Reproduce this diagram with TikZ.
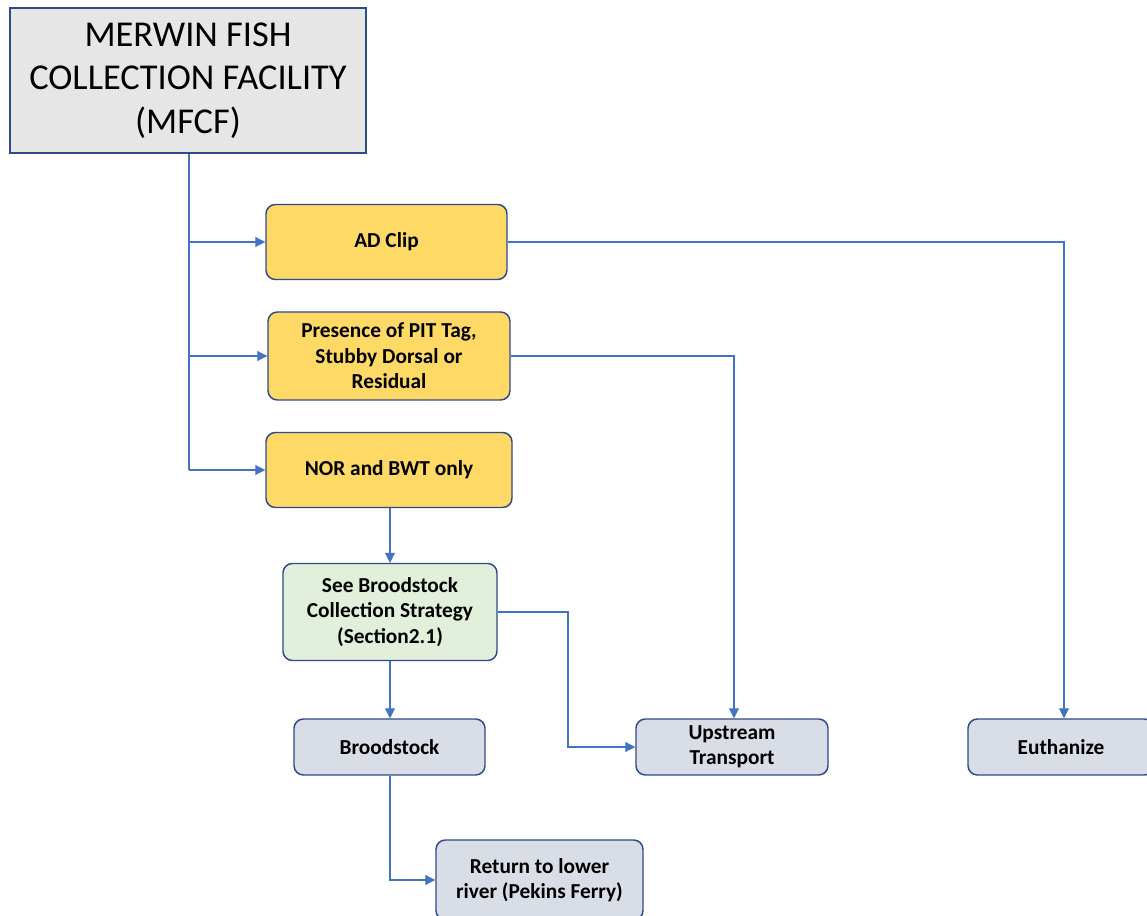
\documentclass[tikz,border=0pt]{standalone}
\usepackage{fontspec}
\setmainfont{Carlito}
\usetikzlibrary{arrows.meta}
\definecolor{lineblue}{HTML}{4472C4}
\definecolor{boxborder}{HTML}{2F4A8A}
\definecolor{goldfill}{HTML}{FFD966}
\definecolor{greenfill}{HTML}{E2EFDA}
\definecolor{grayfill}{HTML}{D9DEE6}
\definecolor{topfill}{HTML}{E6E6E6}
\tikzset{
  base/.style={draw=boxborder, line width=1.1pt, align=center, inner sep=0pt, font=\bfseries\fontsize{16}{19}\selectfont},
  goldbox/.style={base, fill=goldfill, rounded corners=7pt},
  greenbox/.style={base, fill=greenfill, rounded corners=7pt},
  graybox/.style={base, fill=grayfill, rounded corners=7pt},
  topbox/.style={draw=boxborder, line width=1.1pt, fill=topfill, align=center, inner sep=0pt, font=\fontsize{27.3}{32.5}\selectfont},
  conn/.style={draw=lineblue, line width=0.8pt, -{Triangle[length=7.5pt,width=7.5pt]}},
  plain/.style={draw=lineblue, line width=0.8pt}
}
\begin{document}
\begin{tikzpicture}[x=0.75pt,y=-0.75pt]
\useasboundingbox (0,0) rectangle (1147,916);
\clip (0,0) rectangle (1147,916);
\node[topbox, minimum width=356*0.75pt, minimum height=145*0.75pt] (mfcf) at (188,80.5) {MERWIN FISH\\COLLECTION FACILITY\\(MFCF)};
\node[goldbox, minimum width=241*0.75pt, minimum height=75*0.75pt] (ad) at (386.5,242) {AD Clip};
\node[goldbox, minimum width=242*0.75pt, minimum height=88*0.75pt] (pit) at (389,356) {Presence of PIT Tag,\\Stubby Dorsal or\\Residual};
\node[goldbox, minimum width=246*0.75pt, minimum height=75*0.75pt] (nor) at (389,470) {NOR and BWT only};
\node[greenbox, minimum width=214*0.75pt, minimum height=97*0.75pt] (see) at (390,612) {See Broodstock\\Collection Strategy\\(Section2.1)};
\node[graybox, minimum width=191*0.75pt, minimum height=56*0.75pt] (brood) at (389.5,747) {Broodstock};
\node[graybox, minimum width=192*0.75pt, minimum height=56*0.75pt] (up) at (732,747) {Upstream\\Transport};
\node[graybox, minimum width=186*0.75pt, minimum height=56*0.75pt] (euth) at (1061,747) {Euthanize};
\node[graybox, minimum width=207*0.75pt, minimum height=80*0.75pt] (ret) at (539.5,880) {Return to lower\\river (Pekins Ferry)};
% connectors
\coordinate (trunk) at (189,470);
\coordinate (bendsee) at (568,612);
\draw[plain] (mfcf.south -| trunk) -- (trunk);
\draw[conn] (ad.west -| trunk) -- (ad.west);
\draw[conn] (pit.west -| trunk) -- (pit.west);
\draw[conn] (trunk) -- (nor.west);
\draw[conn] (ad.east) -| (euth.north -| 1064,0);
\draw[conn] (pit.east) -| (up.north -| 734,0);
\draw[conn] (nor.south -| 390,0) -- (see.north);
\draw[conn] (see.east) -- (bendsee) |- (up.west);
\draw[conn] (see.south) -- (brood.north -| see.south);
\draw[conn] (brood.south -| see.south) |- (ret.west);
\end{tikzpicture}
\end{document}
